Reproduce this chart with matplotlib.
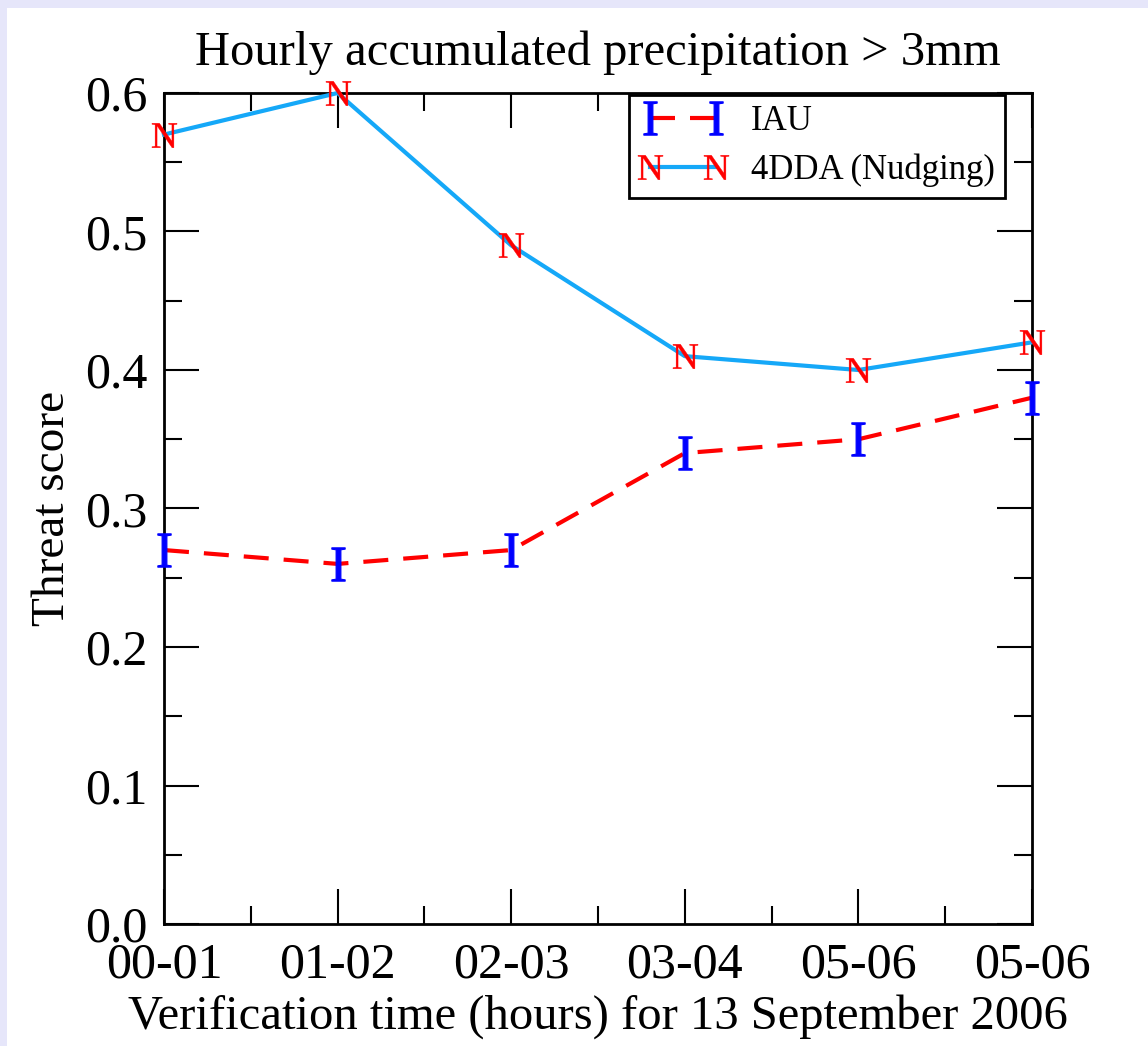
import matplotlib.pyplot as plt
from matplotlib.patches import Rectangle
from matplotlib.ticker import MultipleLocator

plt.rcParams['font.family'] = ['Liberation Serif', 'DejaVu Serif']
plt.rcParams['mathtext.fontset'] = 'custom'
plt.rcParams['mathtext.rm'] = 'Liberation Serif'

# verification periods and threat scores
periods = ['00-01', '01-02', '02-03', '03-04', '05-06', '05-06']
iau = [0.27, 0.26, 0.27, 0.34, 0.35, 0.38]
nudging = [0.57, 0.60, 0.49, 0.41, 0.40, 0.42]

fig = plt.figure(figsize=(11.48, 10.46), dpi=100, facecolor='#e6e6fa')
# white page inside the lavender frame
fig.patches.append(Rectangle((7 / 1148, 0), 1, 1 - 8 / 1046,
                             transform=fig.transFigure, facecolor='white',
                             edgecolor='none', zorder=-10))

ax = fig.add_axes([164 / 1148, 1 - 924 / 1046, (1032 - 164) / 1148, (924 - 93) / 1046])
x = range(len(periods))

ax.plot(x, iau, color='red', lw=3, dashes=(6, 3.6),
        marker=r'$\mathrm{I}$', ms=24, mfc='blue', mec='blue', mew=0.8,
        label='IAU', clip_on=False, zorder=3)
ax.plot(x, nudging, color='#15a8f8', lw=3,
        marker=r'$\mathrm{N}$', ms=18, mfc='red', mec='red', mew=0.3,
        label='4DDA (Nudging)', clip_on=False, zorder=3)

ax.set_xlim(0, len(periods) - 1)
ax.set_ylim(0, 0.6)
ax.set_xticks(list(x))
ax.set_xticklabels(periods)
ax.xaxis.set_minor_locator(MultipleLocator(0.5))
ax.yaxis.set_major_locator(MultipleLocator(0.1))
ax.yaxis.set_minor_locator(MultipleLocator(0.05))
ax.set_yticklabels([f'{v:.1f}' for v in ax.get_yticks()])

ax.tick_params(which='both', direction='in', top=True, right=True,
               labelsize=36, width=1.5)
ax.tick_params(which='major', length=25)
ax.tick_params(which='minor', length=13)
ax.tick_params(axis='y', pad=12)
ax.tick_params(axis='x', pad=13)
for s in ax.spines.values():
    s.set_linewidth(2)

ax.set_title('Hourly accumulated precipitation > 3mm', fontsize=35, pad=20)
ax.set_xlabel('Verification time (hours) for 13 September 2006', fontsize=35, labelpad=4)
ax.set_ylabel('Threat score', fontsize=34, labelpad=8)

leg = ax.legend(loc='upper right', bbox_to_anchor=(0.969, 0.998), borderaxespad=0,
                fontsize=25, numpoints=2, handlelength=2.5, fancybox=False,
                framealpha=1, borderpad=0.3, labelspacing=0.45, handletextpad=0.7)
leg.get_frame().set_edgecolor('black')
leg.get_frame().set_linewidth(2)

fig.savefig('out.png', dpi=100, facecolor=fig.get_facecolor())
